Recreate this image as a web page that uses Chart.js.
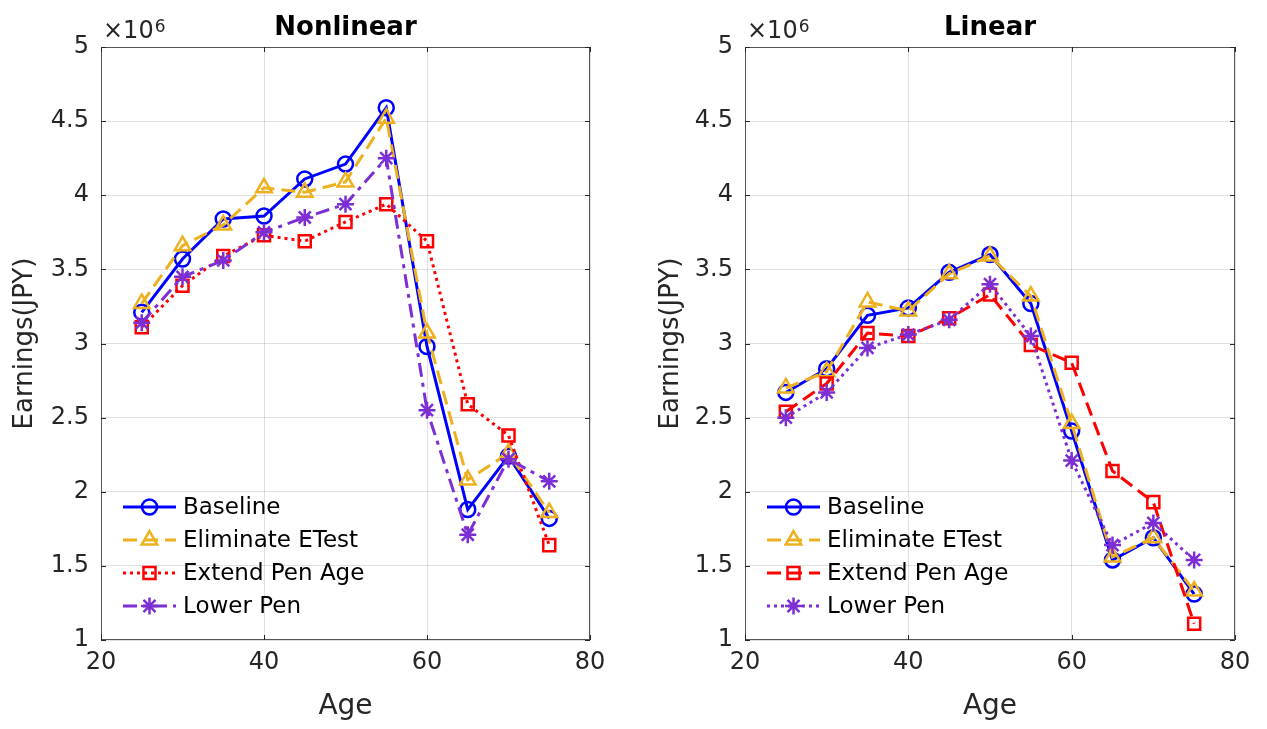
<!DOCTYPE html>
<html>
<head>
<meta charset="utf-8">
<script src="https://cdn.jsdelivr.net/npm/chart.js@4.4.0/dist/chart.umd.min.js"></script>
<style>
html, body { margin: 0; padding: 0; background: #fff; }
#wrap { position: relative; width: 1267px; height: 729px; overflow: hidden; }
canvas { position: absolute; top: 0; }
</style>
</head>
<body>
<div id="wrap">
  <canvas id="nonlinear" width="633" height="729" style="left:0px"></canvas>
  <canvas id="linear" width="634" height="729" style="left:633px"></canvas>
</div>
<script>
// Данные (заработок, ×10^6 JPY)
const ages = [25, 30, 35, 40, 45, 50, 55, 60, 65, 70, 75];
const seriesNames = ['Baseline', 'Eliminate ETest', 'Extend Pen Age', 'Lower Pen'];

// Nonlinear
const nlBaseline  = [3.21, 3.57, 3.84, 3.86, 4.11, 4.21, 4.59, 2.98, 1.88, 2.24, 1.82];
const nlEliminate = [3.27, 3.66, 3.80, 4.05, 4.02, 4.09, 4.52, 3.07, 2.08, 2.26, 1.86];
const nlExtend    = [3.11, 3.39, 3.59, 3.73, 3.69, 3.82, 3.94, 3.69, 2.59, 2.38, 1.64];
const nlLower     = [3.14, 3.45, 3.56, 3.75, 3.85, 3.94, 4.25, 2.55, 1.71, 2.22, 2.07];

// Linear
const lBaseline  = [2.67, 2.83, 3.19, 3.24, 3.48, 3.60, 3.27, 2.41, 1.54, 1.69, 1.31];
const lEliminate = [2.70, 2.81, 3.28, 3.22, 3.47, 3.59, 3.32, 2.46, 1.56, 1.69, 1.33];
const lExtend    = [2.54, 2.73, 3.07, 3.05, 3.17, 3.33, 2.99, 2.87, 2.14, 1.93, 1.11];
const lLower     = [2.50, 2.67, 2.97, 3.06, 3.16, 3.40, 3.05, 2.21, 1.64, 1.79, 1.54];

const xTicks = [20, 40, 60, 80];
const yTickMin = 1, yTickMax = 5, yTickStep = 0.5;

const FONT = "'DejaVu Sans', 'Liberation Sans', Arial, sans-serif";
const TEXT = '#262626';

const colors = ['#0000ff', '#edb120', '#ff0000', '#7d2fd3'];
const markers = ['circle', 'triangle', 'rect', 'star'];
const markerSizes = [7.5, 9, 8.5, 8.5];

// Стили линий
const DASH = [14, 7];
const DOT = [3, 4];
const DASHDOT = [14, 6, 4, 6];

function drawMarker(ctx, style, x, y, r, color) {
    ctx.save();
    ctx.strokeStyle = color;
    ctx.lineWidth = 2.5;
    ctx.setLineDash([]);
    ctx.beginPath();
    if (style === 'circle') {
        ctx.arc(x, y, r, 0, Math.PI * 2);
    } else if (style === 'triangle') {
        const h = r * 1.5, w = r * Math.sqrt(3) / 2 * 1.0;
        ctx.moveTo(x, y - r);
        ctx.lineTo(x + r * 0.866, y + r * 0.5);
        ctx.lineTo(x - r * 0.866, y + r * 0.5);
        ctx.closePath();
    } else if (style === 'rect') {
        const s = r * Math.SQRT1_2;
        ctx.rect(x - s, y - s, 2 * s, 2 * s);
    } else if (style === 'star') {
        for (let k = 0; k < 4; k++) {
            const a = k * Math.PI / 4;
            ctx.moveTo(x - r * Math.cos(a), y - r * Math.sin(a));
            ctx.lineTo(x + r * Math.cos(a), y + r * Math.sin(a));
        }
    }
    ctx.stroke();
    ctx.restore();
}

// Рамка, засечки, заголовок, множитель ×10^6
const framePlugin = {
    id: 'frame',
    afterDraw(chart, args, opts) {
        const ctx = chart.ctx;
        const a = chart.chartArea;
        const xs = chart.scales.x, ys = chart.scales.y;
        ctx.save();
        ctx.strokeStyle = '#555';
        ctx.lineWidth = 1;
        ctx.strokeRect(a.left + 0.5, a.top + 0.5, a.right - a.left - 1, a.bottom - a.top - 1);
        ctx.strokeStyle = '#262626';
        ctx.beginPath();
        xTicks.forEach(v => {
            const px = Math.round(xs.getPixelForValue(v)) + 0.5;
            ctx.moveTo(px, a.bottom); ctx.lineTo(px, a.bottom - 5);
            ctx.moveTo(px, a.top); ctx.lineTo(px, a.top + 5);
        });
        for (let v = yTickMin; v <= yTickMax + 1e-9; v += yTickStep) {
            const py = Math.round(ys.getPixelForValue(v)) + 0.5;
            ctx.moveTo(a.left, py); ctx.lineTo(a.left + 5, py);
            ctx.moveTo(a.right, py); ctx.lineTo(a.right - 5, py);
        }
        ctx.stroke();

        // заголовок
        ctx.fillStyle = '#000';
        ctx.font = 'bold 26px ' + FONT;
        ctx.textAlign = 'center';
        ctx.textBaseline = 'alphabetic';
        ctx.fillText(opts.title, (a.left + a.right) / 2, 35);

        // ×10^6
        ctx.fillStyle = TEXT;
        ctx.textAlign = 'left';
        ctx.font = '24px ' + FONT;
        const base = '\u00d710';
        ctx.fillText(base, a.left + 2, 38);
        const w = ctx.measureText(base).width;
        ctx.font = '17px ' + FONT;
        ctx.fillText('6', a.left + 2 + w + 1, 32);
        ctx.restore();
    }
};

// Легенда внутри области графика (внизу слева)
const legendPlugin = {
    id: 'innerLegend',
    afterDraw(chart) {
        const ctx = chart.ctx;
        const a = chart.chartArea;
        const x0 = a.left + 22, x1 = a.left + 75;
        ctx.save();
        chart.data.datasets.forEach((ds, i) => {
            const y = 507 + i * 33;
            ctx.strokeStyle = ds.borderColor;
            ctx.lineWidth = 3;
            ctx.setLineDash(ds.borderDash || []);
            ctx.beginPath();
            ctx.moveTo(x0, y); ctx.lineTo(x1, y);
            ctx.stroke();
            drawMarker(ctx, ds.pointStyle, (x0 + x1) / 2, y, ds.pointRadius, ds.borderColor);
            ctx.fillStyle = '#000';
            ctx.font = '23px ' + FONT;
            ctx.textAlign = 'left';
            ctx.textBaseline = 'middle';
            ctx.fillText(ds.label, a.left + 82, y + 1);
        });
        ctx.restore();
    }
};

function buildDatasets(valuesList, dashes) {
    return valuesList.map((vals, i) => ({
        label: seriesNames[i],
        data: ages.map((a, j) => ({ x: a, y: vals[j] })),
        borderColor: colors[i],
        backgroundColor: 'rgba(0,0,0,0)',
        borderWidth: 3,
        borderDash: dashes[i],
        pointStyle: markers[i],
        pointRadius: markerSizes[i],
        pointBorderWidth: 2.5,
        pointBackgroundColor: 'rgba(0,0,0,0)',
        pointBorderColor: colors[i],
        tension: 0,
        order: 3 - i
    }));
}

function plotPanel(canvasId, title, valuesList, dashes, yAxisWidth, rightPad, yTitlePad) {
    const ctx = document.getElementById(canvasId).getContext('2d');
    return new Chart(ctx, {
        type: 'line',
        data: { datasets: buildDatasets(valuesList, dashes) },
        plugins: [framePlugin, legendPlugin],
        options: {
            responsive: false,
            animation: false,
            layout: { padding: { top: 47, right: rightPad, left: 0, bottom: 0 } },
            plugins: {
                legend: { display: false },
                tooltip: { enabled: false },
                frame: { title: title }
            },
            scales: {
                x: {
                    type: 'linear',
                    min: 20, max: 80,
                    ticks: { stepSize: 20, padding: 8, color: TEXT, font: { family: FONT, size: 24 }, maxRotation: 0 },
                    grid: { color: 'rgba(0,0,0,0.12)', drawTicks: false },
                    border: { display: false },
                    title: { display: true, text: 'Age', color: TEXT, font: { family: FONT, size: 28 }, padding: { top: 0, bottom: 5 } },
                    afterFit: s => { s.height = 89; }
                },
                y: {
                    type: 'linear',
                    min: yTickMin, max: yTickMax,
                    ticks: { stepSize: yTickStep, padding: 12, color: TEXT, font: { family: FONT, size: 24 }, callback: v => String(v) },
                    grid: { color: 'rgba(0,0,0,0.12)', drawTicks: false },
                    border: { display: false },
                    title: { display: true, text: 'Earnings(JPY)', color: TEXT, font: { family: FONT, size: 26 }, padding: { top: yTitlePad, bottom: 0 } },
                    afterFit: s => { s.width = yAxisWidth; }
                }
            }
        }
    });
}

plotPanel('nonlinear', 'Nonlinear',
    [nlBaseline, nlEliminate, nlExtend, nlLower],
    [[], DASH, DOT, DASHDOT], 101, 43, 10);

plotPanel('linear', 'Linear',
    [lBaseline, lEliminate, lExtend, lLower],
    [[], DASH, DASH, DOT], 112, 32, 23);
</script>
</body>
</html>
